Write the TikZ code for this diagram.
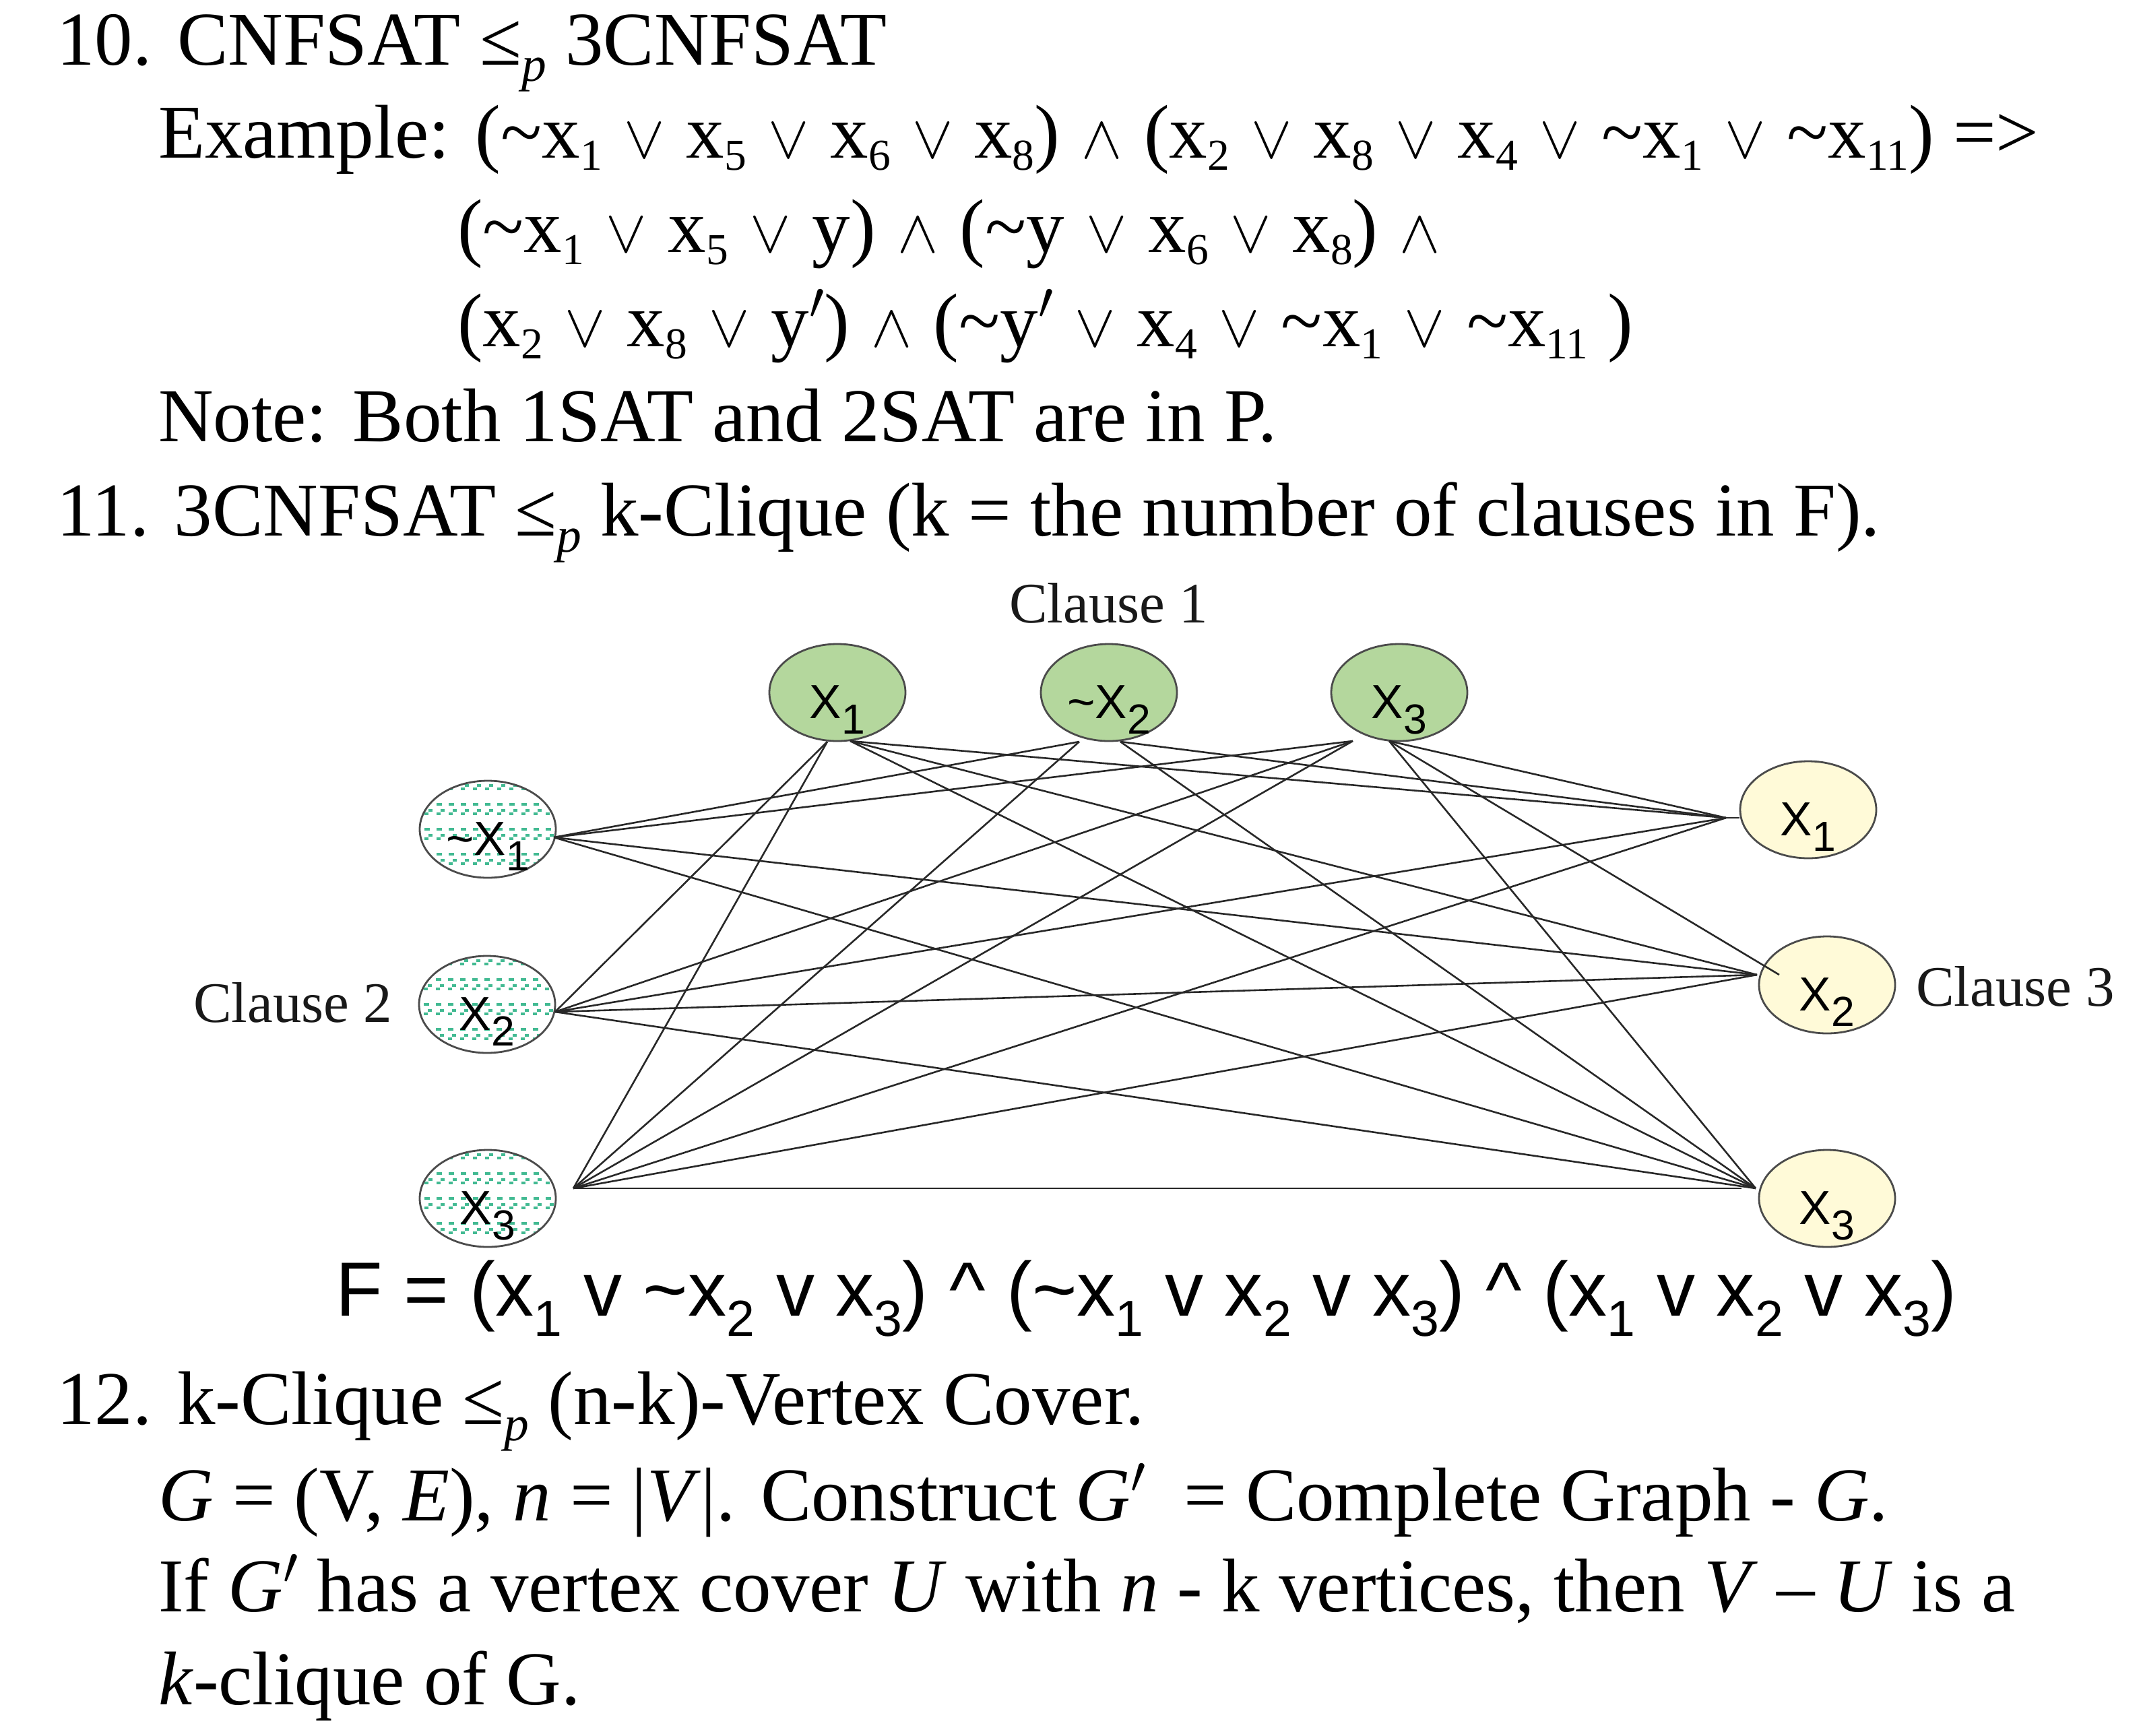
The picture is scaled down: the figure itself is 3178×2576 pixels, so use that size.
\documentclass[tikz,border=0pt]{standalone}
\usepackage{fix-cm}
\usepackage{graphicx}
\usepackage{fontspec}
\setmainfont{Liberation Serif}
\newfontfamily\sansf{Liberation Sans}
\usetikzlibrary{shapes.geometric,calc}
\definecolor{nodegreen}{RGB}{180,215,157}
\definecolor{nodeyellow}{RGB}{255,250,216}
\definecolor{hatchteal}{RGB}{66,186,146}
\definecolor{edgegray}{RGB}{40,40,40}
\definecolor{rimgray}{RGB}{75,75,75}
\newcommand\sbs[1]{\raisebox{-0.16em}{\scalebox{0.58}{#1}}}
\newcommand\sbp{\raisebox{-0.22em}{\scalebox{0.65}{\itshape p}}}
\newcommand\OR{\kern0.035em\scalebox{0.8}{$\vee$}\kern0.035em}
\newcommand\AND{\kern0.035em\scalebox{0.8}{$\wedge$}\kern0.035em}
\newcommand\fsb[1]{\raisebox{-0.27em}{\scalebox{0.66}{#1}}}
\newcommand\nsb[1]{\raisebox{-0.33em}{\scalebox{0.88}{#1}}}
\newcommand\tl{\textasciitilde}
\tikzset{
  txt/.style={anchor=base west, inner sep=0pt, font=\fontsize{113}{113}\selectfont},
  ftxt/.style={anchor=base west, inner sep=0pt, font=\sansf\fontsize{114}{114}\selectfont},
  clause/.style={anchor=base west, inner sep=0pt, font=\fontsize{85}{85}\selectfont, text=black!90},
  litnode/.style={ellipse, draw=rimgray, line width=2.8pt, minimum width=202pt, minimum height=144pt,
    inner sep=0pt, text height=76pt, text depth=0pt, font=\sansf\fontsize{71}{71}\selectfont},
  topn/.style={litnode, fill=nodegreen},
  rightn/.style={litnode, fill=nodeyellow},
  hatchrow/.style={hatchteal, line width=3.4pt},
  leftn/.style={litnode, fill=white, path picture={
    \foreach \k in {-2,...,2}{
      \draw[hatchrow, dash pattern=on 8pt off 10pt]
        ($(path picture bounding box.center)+(-112,37*\k)$) -- ++(224,0);
      \draw[hatchrow, dash pattern=on 6pt off 12pt]
        ($(path picture bounding box.center)+(-112,37*\k+14)$) -- ++(224,0);
      \draw[hatchrow, dash pattern=on 6pt off 12pt, dash phase=12pt]
        ($(path picture bounding box.center)+(-112,37*\k+9)$) -- ++(224,0);
    }}},
  edge/.style={edgegray, line width=2.6pt}
}
\begin{document}
\begin{tikzpicture}[x=1pt,y=-1pt]
\useasboundingbox (0,0) rectangle (3178,2576);
\fill[white] (0,0) rectangle (3178,2576);

% ---- text above ----
\node[txt] (l1) at (84,96) {10. CNFSAT ≤\sbp{} 3CNFSAT};
\node[txt] (l2) at (235,234) {Example: (\tl x\sbs{1} \OR{} x\sbs{5} \OR{} x\sbs{6} \OR{} x\sbs{8}) \AND{} (x\sbs{2} \OR{} x\sbs{8} \OR{} x\sbs{4} \OR{} \tl x\sbs{1} \OR{} \tl x\sbs{11}) =>};
\node[txt] (l3) at (679,374) {(\tl x\sbs{1} \OR{} x\sbs{5} \OR{} y) \AND{} (\tl y \OR{} x\sbs{6} \OR{} x\sbs{8}) \AND};
\node[txt] (l4) at (679,514) {(x\sbs{2} \OR{} x\sbs{8} \OR{} y$'$) \AND{} (\tl y$'$ \OR{} x\sbs{4} \OR{} \tl x\sbs{1} \OR{} \tl x\sbs{11} )};
\node[txt] (l5) at (235,655) {Note: Both 1SAT and 2SAT are in P.};
\node[txt] (l6) at (84,795) {11. 3CNFSAT ≤\sbp{} k-Clique (k = the number of clauses in F).};

% ---- clause labels ----
\node[clause] (c1) at (1498,924) {Clause 1};
\node[clause] (c2) at (287,1517) {Clause 2};
\node[clause] (c3) at (2844,1493) {Clause 3};

% ---- literal nodes ----
\node[topn] (T1) at (1243,1028) {X\nsb{1}};
\node[topn] (T2) at (1646,1028) {\tl X\nsb{2}};
\node[topn] (T3) at (2077,1028) {X\nsb{3}};
\node[leftn] (L1) at (724,1231) {\tl X\nsb{1}};
\node[leftn] (L2) at (723,1491) {X\nsb{2}};
\node[leftn] (L3) at (724,1779) {X\nsb{3}};
\node[rightn] (R1) at (2684,1202) {X\nsb{1}};
\node[rightn] (R2) at (2712,1462) {X\nsb{2}};
\node[rightn] (R3) at (2712,1779) {X\nsb{3}};

% ---- connection points ----
\coordinate (T1L) at (1228,1101);
\coordinate (T1R) at (1262,1100);
\coordinate (T2L) at (1602,1101);
\coordinate (T2R) at (1663,1101);
\coordinate (T3L) at (2008,1100);
\coordinate (T3R) at (2062,1100);
\coordinate (L1p) at (822,1243);
\coordinate (L2p) at (824,1502);
\coordinate (L3p) at (851,1764);
\coordinate (R1p) at (2562,1214);
\coordinate (R1s) at (2582,1214);
\coordinate (R2p) at (2608,1447);
\coordinate (R2i) at (2641,1447);
\coordinate (R3p) at (2606,1764);
\coordinate (R3h) at (2585,1764);

% ---- edges ----
\draw[edge] (T1L) -- (L2p);
\draw[edge] (T1L) -- (L3p);
\draw[edge] (T2L) -- (L1p);
\draw[edge] (T2L) -- (L3p);
\draw[edge] (T3L) -- (L1p);
\draw[edge] (T3L) -- (L2p);
\draw[edge] (T3L) -- (L3p);
\draw[edge] (T1R) -- (R1p);
\draw[edge] (T1R) -- (R2p);
\draw[edge] (T1R) -- (R3p);
\draw[edge] (T2R) -- (R1p);
\draw[edge] (T2R) -- (R3p);
\draw[edge] (T3R) -- (R1p);
\draw[edge] (T3R) -- (R2i);
\draw[edge] (T3R) -- (R3p);
\draw[edge] (L1p) -- (R2p);
\draw[edge] (L1p) -- (R3p);
\draw[edge] (L2p) -- (R1p);
\draw[edge] (L2p) -- (R2p);
\draw[edge] (L2p) -- (R3p);
\draw[edge] (L3p) -- (R1p);
\draw[edge] (L3p) -- (R2p);
\draw[edge] (L3p) -- (R3h);
\draw[edge] (R1p) -- (R1s);

% ---- formula ----
\node[ftxt] (F) at (498,1953) {F = (x\fsb{1} v \tl x\fsb{2} v x\fsb{3}) \textasciicircum{} (\tl x\fsb{1} v x\fsb{2} v x\fsb{3}) \textasciicircum{} (x\fsb{1} v x\fsb{2} v x\fsb{3})};

% ---- text below ----
\node[txt] (l7) at (84,2114) {12. k-Clique ≤\sbp{} (n-k)-Vertex Cover.};
\node[txt] (l8) at (235,2257) {\textit{G} = (V, \textit{E}), \textit{n} = |\textit{V}|. Construct \textit{G}$'$\ \ = Complete Graph - \textit{G}.};
\node[txt] (l9) at (235,2392) {If \textit{G}$'$ has a vertex cover \textit{U} with \textit{n} - k vertices, then \textit{V} – \textit{U} is a};
\node[txt] (l10) at (235,2530) {\textit{k}-clique of G.};
\end{tikzpicture}
\end{document}
